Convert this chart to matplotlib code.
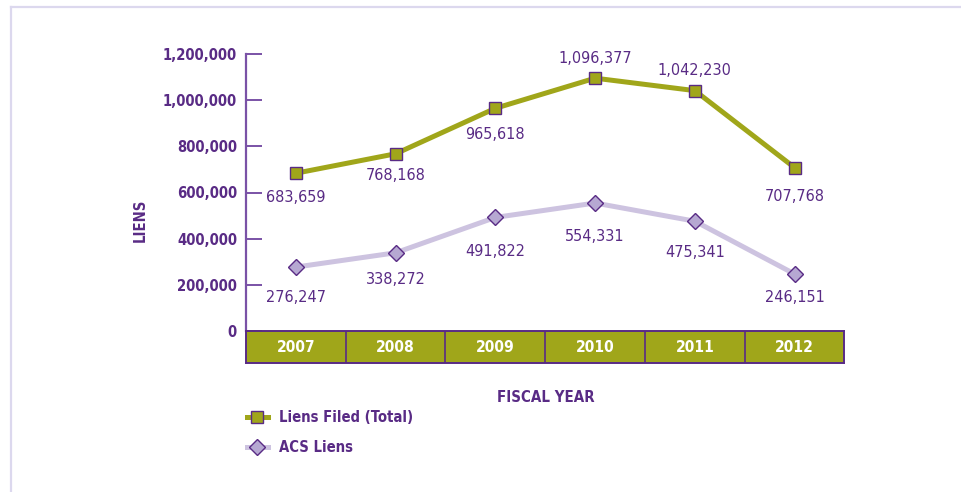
import matplotlib.pyplot as plt
from matplotlib.lines import Line2D
from matplotlib.ticker import FuncFormatter

years = ["2007", "2008", "2009", "2010", "2011", "2012"]
liens_total = [683659, 768168, 965618, 1096377, 1042230, 707768]
acs_liens = [276247, 338272, 491822, 554331, 475341, 246151]
y_ticks = [0, 200000, 400000, 600000, 800000, 1000000, 1200000]

# label offsets in pixels (positive = below the point)
total_offsets = [24, 22, 26, -20, -20, 29]
acs_offsets = [30, 27, 34, 33, 31, 23]

OLIVE = "#a0a61a"
PURPLE = "#592b85"
AXIS_PURPLE = "#7a52a6"
LAVENDER = "#cdc3e0"
DIAMOND = "#b6a8d2"
FRAME = "#dcd8ee"

plt.rcParams["font.family"] = ["DejaVu Sans"]
plt.rcParams["font.stretch"] = "condensed"

W, H = 962, 492
fig = plt.figure(figsize=(W / 100, H / 100), dpi=100)
fig.patch.set_facecolor("white")


def fx(px):
    return px / W


def fy(py):
    return 1 - py / H


# thin frame lines at top and left
fig.add_artist(Line2D([fx(10.5), 1], [fy(6.5), fy(6.5)], color=FRAME, lw=1.6))
fig.add_artist(Line2D([fx(10.5), fx(10.5)], [0, fy(6.5)], color=FRAME, lw=1.6))

x0, x1 = 246, 844.5
ytop, ybot = 54.3, 330.7
ax = fig.add_axes([fx(x0), fy(ybot), fx(x1 - x0), (ybot - ytop) / H])
ax.set_xlim(-0.5, len(years) - 0.5)
ax.set_ylim(0, 1200000)
ax.patch.set_alpha(0)
for s in ["top", "right", "bottom"]:
    ax.spines[s].set_visible(False)
ax.spines["left"].set_color(AXIS_PURPLE)
ax.spines["left"].set_linewidth(1.6)
ax.set_xticks([])
ax.set_yticks(y_ticks)
ax.yaxis.set_major_formatter(FuncFormatter(lambda v, p: f"{int(v):,}"))
ax.tick_params(axis="y", direction="in", length=11.5, width=1.4, color=AXIS_PURPLE,
               labelcolor=PURPLE, labelsize=10.6, pad=6.5)
for lab in ax.get_yticklabels():
    lab.set_fontweight("bold")

xs = list(range(len(years)))
ax.plot(xs, acs_liens, color=LAVENDER, lw=3.6, marker="D", ms=8.3,
        mfc=DIAMOND, mec=PURPLE, mew=1.0, solid_joinstyle="round",
        label="ACS Liens", clip_on=False, zorder=3)
ax.plot(xs, liens_total, color=OLIVE, lw=3.6, marker="s", ms=9.2,
        mfc=OLIVE, mec=PURPLE, mew=1.0, solid_joinstyle="round",
        label="Liens Filed (Total)", clip_on=False, zorder=4)

for x, v, off in zip(xs, liens_total, total_offsets):
    ax.annotate(f"{v:,}", (x, v), xytext=(0, -off * 0.72), textcoords="offset points",
                ha="center", va="center", fontsize=11.6, color=PURPLE)
for x, v, off in zip(xs, acs_liens, acs_offsets):
    ax.annotate(f"{v:,}", (x, v), xytext=(0, -off * 0.72), textcoords="offset points",
                ha="center", va="center", fontsize=11.6, color=PURPLE)

# year band below the axis
band = fig.add_axes([fx(x0), fy(363), fx(x1 - x0), (363 - 331) / H])
band.set_xlim(-0.5, len(years) - 0.5)
band.set_ylim(0, 1)
band.set_facecolor(OLIVE)
band.set_xticks([])
band.set_yticks([])
for s in band.spines.values():
    s.set_color(PURPLE)
    s.set_linewidth(1.4)
for i in range(1, len(years)):
    band.axvline(i - 0.5, color=PURPLE, lw=1.2)
for i, yr in enumerate(years):
    band.text(i, 0.5, yr, ha="center", va="center", color="white",
              fontsize=11.2, fontweight="bold")

fig.text(fx(546), fy(397), "FISCAL YEAR", ha="center", va="center",
         color=PURPLE, fontsize=10.8, fontweight="bold")
fig.text(fx(140), fy(220), "LIENS", ha="center", va="center", rotation=90,
         color=PURPLE, fontsize=10.6, fontweight="bold")

h, l = ax.get_legend_handles_labels()
leg = fig.legend(h[::-1], l[::-1], loc="upper left",
                 bbox_to_anchor=(fx(247), fy(410)), frameon=False,
                 fontsize=10.6, handlelength=1.4, handletextpad=0.75,
                 labelspacing=1.0, borderaxespad=0, borderpad=0)
for t in leg.get_texts():
    t.set_color(PURPLE)
    t.set_fontweight("bold")

fig.savefig("out.png", dpi=100)
